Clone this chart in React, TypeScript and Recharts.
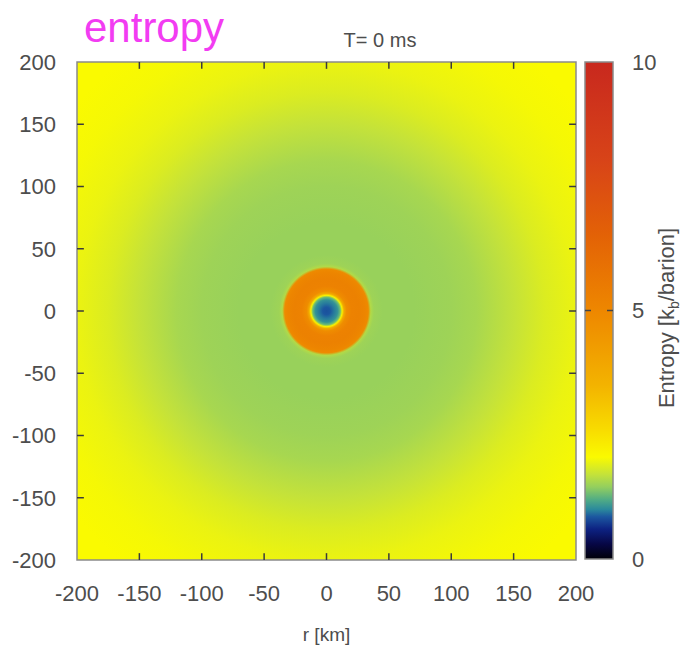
import React from "react";
import {
  Bar,
  BarChart,
  ReferenceArea,
  ReferenceLine,
  Scatter,
  ScatterChart,
  XAxis,
  YAxis,
} from "recharts";

// radial entropy profile (r in km, s in k_b/baryon)
const RADIUS_KM = [0, 3, 6, 9, 11, 12.5, 14, 16, 20, 26, 31, 33.5, 35.5, 38, 45, 70, 100, 120, 150, 175, 200, 230, 260, 290];
const ENTROPY = [0.82, 0.85, 0.95, 1.05, 1.3, 2.2, 3.8, 4.8, 5.2, 5.25, 5.1, 4.9, 1.6, 1.5, 1.47, 1.47, 1.5, 1.55, 1.7, 1.85, 1.95, 2.02, 2.05, 2.05];

// colour scale of the colorbar
const CMAP_LEVELS = [0, 0.3, 0.6, 0.85, 1.0, 1.2, 1.45, 1.7, 2.05, 2.6, 3.5, 5.0, 6.5, 8.0, 10];
const CMAP_COLORS = ["#000008", "#070745", "#0d2282", "#1c57a0", "#2b8a9c", "#52ad84", "#94cf5e", "#c4e23a", "#fafa00", "#f8dc00", "#f3b300", "#ee8700", "#e36206", "#d84418", "#c8281e"];

const AXIS_TICKS = [-200, -150, -100, -50, 0, 50, 100, 150, 200];
const INNER_TICKS = [-150, -100, -50, 0, 50, 100, 150];
const CB_TICKS = [0, 5, 10];
const CB_DATA = [{ name: "entropy", top: 10 }];
const CENTER = [{ x: 0, y: 0 }];

const W = 683;
const H = 647;
const PLOT_LEFT = 77;
const PLOT_RIGHT = 576;
const PLOT_TOP = 62;
const PLOT_BOTTOM = 560;
const CB_LEFT = 585;
const CB_RIGHT = 613;
const CB_BOTTOM = 559;
const PX_PER_KM = (PLOT_RIGHT - PLOT_LEFT) / 400;
const TICK_KM = 5.5;
const FONT = "'Liberation Sans', Arial, sans-serif";
const TEXT = "#4d4d4d";

const hexToRgb = (h: string) => [1, 3, 5].map((i) => parseInt(h.slice(i, i + 2), 16));

function entropyColor(s: number) {
  let i = 0;
  while (i < CMAP_LEVELS.length - 2 && s > CMAP_LEVELS[i + 1]) i++;
  const t = Math.min(1, Math.max(0, (s - CMAP_LEVELS[i]) / (CMAP_LEVELS[i + 1] - CMAP_LEVELS[i])));
  const a = hexToRgb(CMAP_COLORS[i]);
  const b = hexToRgb(CMAP_COLORS[i + 1]);
  const c = a.map((v, k) => Math.round(v + (b[k] - v) * t));
  return `rgb(${c[0]},${c[1]},${c[2]})`;
}

const maxR = RADIUS_KM[RADIUS_KM.length - 1];

const DiskShape = (props: any) => {
  const { cx, cy } = props;
  return (
    <g>
      <defs>
        <radialGradient id="entropyDisk">
          {RADIUS_KM.map((r, i) => (
            <stop key={r} offset={r / maxR} stopColor={entropyColor(ENTROPY[i])} />
          ))}
        </radialGradient>
      </defs>
      <circle cx={cx} cy={cy} r={maxR * PX_PER_KM} fill="url(#entropyDisk)" />
    </g>
  );
};

const ColorbarShape = (props: any) => {
  const { x, y, width, height } = props;
  const midY = y + height / 2;
  return (
    <g>
      <defs>
        <linearGradient id="cbGrad" x1="0" y1="1" x2="0" y2="0">
          {CMAP_LEVELS.map((v, i) => (
            <stop key={v} offset={v / 10} stopColor={CMAP_COLORS[i]} />
          ))}
        </linearGradient>
      </defs>
      <rect x={x} y={y} width={width} height={height} fill="url(#cbGrad)" stroke="#8a8a8a" strokeWidth={1.5} />
      <line x1={x} x2={x + 6} y1={midY} y2={midY} stroke="#444" strokeWidth={1.5} />
      <line x1={x + width - 6} x2={x + width} y1={midY} y2={midY} stroke="#444" strokeWidth={1.5} />
    </g>
  );
};

const tickStyle = { fill: TEXT, fontSize: 22, fontFamily: FONT };
const tickLineProps = { stroke: "#3a3a3a", strokeWidth: 1.5, zIndex: 900 } as any;

export default function App() {
  return (
    <div style={{ position: "absolute", left: 0, top: 0, width: W, height: H, background: "#fff", fontFamily: FONT }}>
      <ScatterChart
        width={W}
        height={H}
        margin={{ top: PLOT_TOP, right: W - PLOT_RIGHT, bottom: 0, left: PLOT_LEFT - 60 }}
      >
        <XAxis
          type="number"
          dataKey="x"
          domain={[-200, 200]}
          ticks={AXIS_TICKS}
          interval={0}
          allowDataOverflow
          axisLine={false}
          tickLine={false}
          tickSize={0}
          tickMargin={25}
          height={H - PLOT_BOTTOM}
          tick={tickStyle}
          label={{ value: "r [km]", position: "insideBottom", offset: 6, fill: TEXT, fontSize: 19, fontFamily: FONT }}
        />
        <YAxis
          type="number"
          dataKey="y"
          domain={[-200, 200]}
          ticks={AXIS_TICKS}
          interval={0}
          allowDataOverflow
          axisLine={false}
          tickLine={false}
          tickSize={0}
          tickMargin={21}
          width={60}
          tick={tickStyle}
        />
        <Scatter data={CENTER} shape={DiskShape} isAnimationActive={false} />
        <ReferenceArea
          x1={-200}
          x2={200}
          y1={-200}
          y2={200}
          fill="none"
          stroke="#8a8a8a"
          strokeWidth={1.5}
          {...({ zIndex: 900 } as any)}
        />
        {INNER_TICKS.map((t) => (
          <ReferenceLine key={`b${t}`} segment={[{ x: t, y: -200 }, { x: t, y: -200 + TICK_KM }]} {...tickLineProps} />
        ))}
        {INNER_TICKS.map((t) => (
          <ReferenceLine key={`t${t}`} segment={[{ x: t, y: 200 }, { x: t, y: 200 - TICK_KM }]} {...tickLineProps} />
        ))}
        {INNER_TICKS.map((t) => (
          <ReferenceLine key={`l${t}`} segment={[{ x: -200, y: t }, { x: -200 + TICK_KM, y: t }]} {...tickLineProps} />
        ))}
        {INNER_TICKS.map((t) => (
          <ReferenceLine key={`r${t}`} segment={[{ x: 200, y: t }, { x: 200 - TICK_KM, y: t }]} {...tickLineProps} />
        ))}
      </ScatterChart>

      <div style={{ position: "absolute", left: 0, top: 0 }}>
        <BarChart
          width={W}
          height={H}
          data={CB_DATA}
          barCategoryGap={0}
          margin={{ top: PLOT_TOP, right: 0, bottom: H - CB_BOTTOM, left: CB_LEFT }}
        >
          <XAxis dataKey="name" type="category" hide />
          <YAxis
            type="number"
            orientation="right"
            domain={[0, 10]}
            ticks={CB_TICKS}
            interval={0}
            axisLine={false}
            tickLine={false}
            tickSize={0}
            tickMargin={19}
            width={W - CB_RIGHT}
            tick={tickStyle}
          />
          <Bar dataKey="top" shape={ColorbarShape} isAnimationActive={false} />
        </BarChart>
      </div>

      <div style={{ position: "absolute", left: 84, top: 4, fontSize: 42, color: "#f23cf2", lineHeight: "48px" }}>
        entropy
      </div>
      <div style={{ position: "absolute", left: 380, top: 40, transform: "translate(-50%, -50%)", fontSize: 20, color: TEXT, whiteSpace: "nowrap" }}>
        T= 0 ms
      </div>
      <div
        style={{
          position: "absolute",
          left: 668,
          top: 318,
          transform: "translate(-50%, -50%) rotate(-90deg)",
          fontSize: 22,
          color: TEXT,
          whiteSpace: "nowrap",
        }}
      >
        Entropy [k<sub style={{ fontSize: 14 }}>b</sub>/barion]
      </div>
    </div>
  );
}
